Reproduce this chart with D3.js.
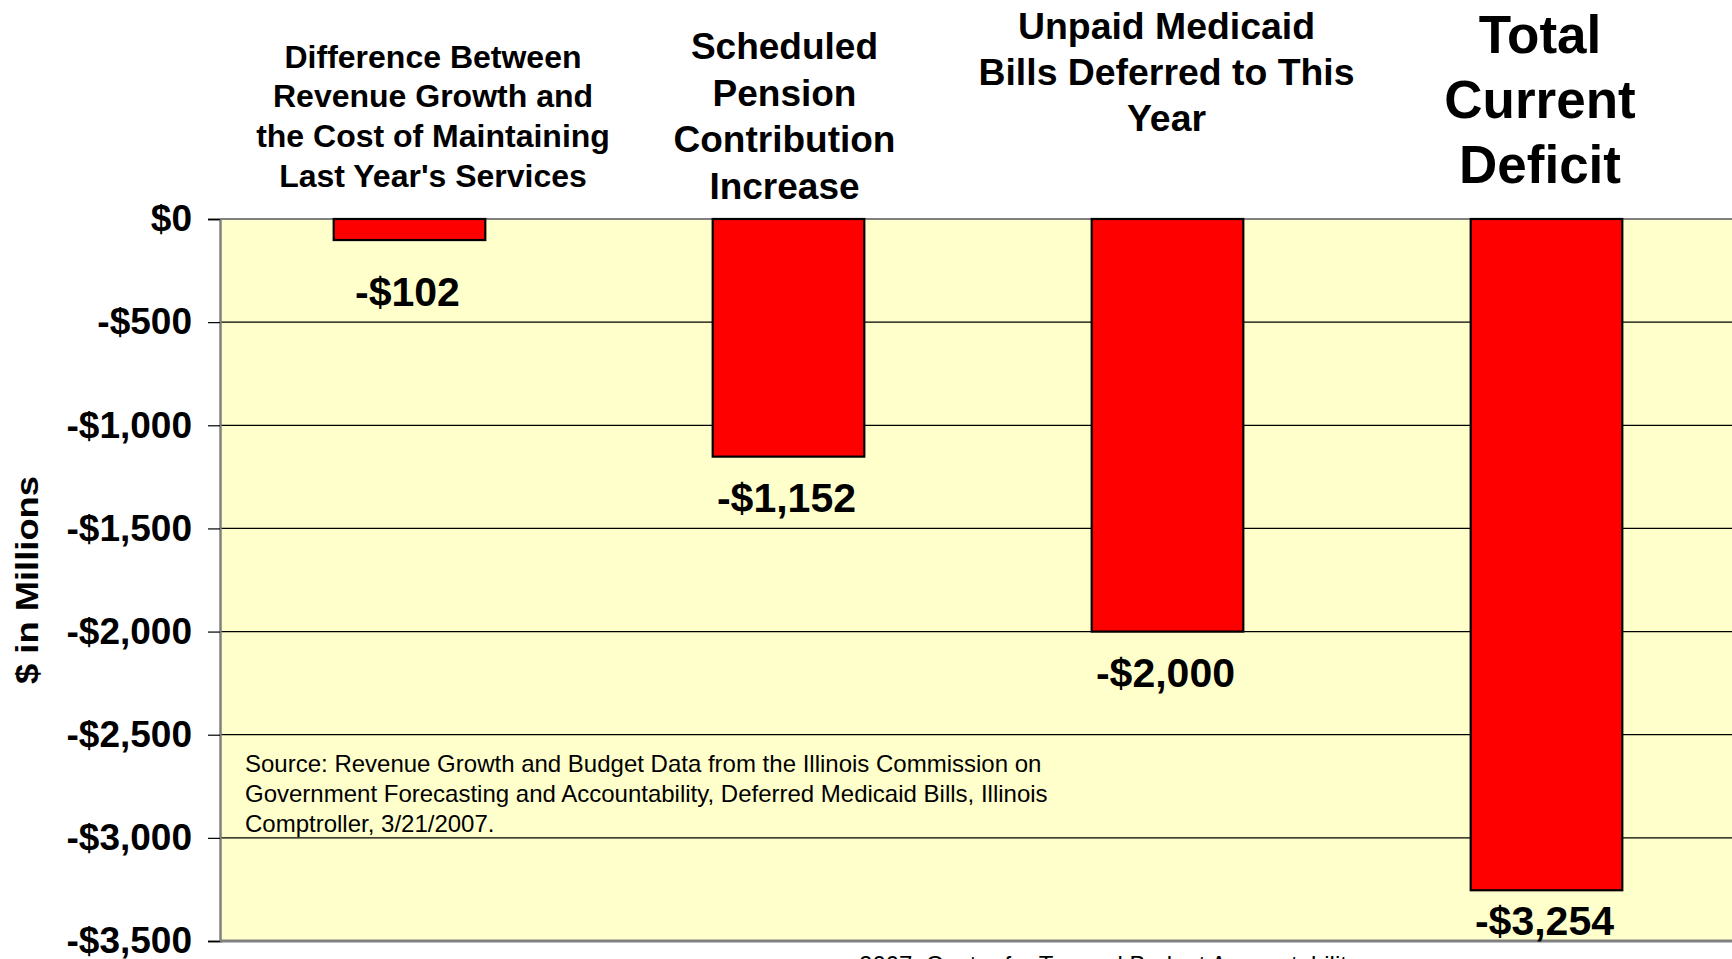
<!DOCTYPE html>
<html>
<head>
<meta charset="utf-8">
<script src="https://cdn.jsdelivr.net/npm/d3@7"></script>
<style>
  html, body { margin: 0; padding: 0; background: #ffffff; overflow: hidden; }
  svg { display: block; font-family: "Liberation Sans", Arial, sans-serif; }
</style>
</head>
<body>
<svg id="chart" width="1732" height="959"></svg>
<script>
// ---- Data ----
const categories = [
  ["Difference Between", "Revenue Growth and", "the Cost of Maintaining", "Last Year's Services"],
  ["Scheduled", "Pension", "Contribution", "Increase"],
  ["Unpaid Medicaid", "Bills Deferred to This", "Year"],
  ["Total", "Current", "Deficit"]
];
const values = [-102, -1152, -2000, -3254];
const valueLabels = ["-$102", "-$1,152", "-$2,000", "-$3,254"];
const yTicks = [0, -500, -1000, -1500, -2000, -2500, -3000, -3500];
const yTickLabels = ["$0", "-$500", "-$1,000", "-$1,500", "-$2,000", "-$2,500", "-$3,000", "-$3,500"];
const yTitle = "$ in Millions";
const sourceLines = [
  "Source: Revenue Growth and Budget Data from the Illinois Commission on",
  "Government Forecasting and Accountability, Deferred Medicaid Bills, Illinois",
  "Comptroller, 3/21/2007."
];
const footer = "2007, Center for Tax and Budget Accountability";

// ---- Layout ----
const plot = { left: 220, right: 1736, top: 219, bottom: 941 };
const catStyle = [
  { size: 32, dx: 23.5, y0: 67.7, lh: 39.7 },
  { size: 37, dx: -4, y0: 59, lh: 46.6 },
  { size: 37.4, dx: -1, y0: 39, lh: 46 },
  { size: 53, dx: -6.5, y0: 53, lh: 65 }
];
const valueDy = [66, 55, 55, 45];

const svg = d3.select("#chart");
const idx = d3.range(values.length);

const x = d3.scaleBand()
  .domain(idx)
  .range([plot.left, plot.right])
  .paddingInner(0.6)
  .paddingOuter(0.3);

const y = d3.scaleLinear()
  .domain([-3500, 0])
  .range([plot.bottom, plot.top]);

// Plot background
svg.append("rect")
  .attr("x", plot.left).attr("y", plot.top)
  .attr("width", plot.right - plot.left)
  .attr("height", plot.bottom - plot.top)
  .attr("fill", "#FFFFCC");

// Gridlines
svg.append("g")
  .selectAll("line")
  .data(yTicks.filter(d => d !== 0 && d !== -3500))
  .join("line")
  .attr("x1", plot.left).attr("x2", plot.right)
  .attr("y1", d => y(d)).attr("y2", d => y(d))
  .attr("stroke", "#000").attr("stroke-width", 1.2);

// Plot border (top, bottom) in gray
svg.append("line")
  .attr("x1", plot.left).attr("x2", plot.right)
  .attr("y1", plot.top).attr("y2", plot.top)
  .attr("stroke", "#808080").attr("stroke-width", 2);
svg.append("line")
  .attr("x1", plot.left).attr("x2", plot.right)
  .attr("y1", plot.bottom).attr("y2", plot.bottom)
  .attr("stroke", "#808080").attr("stroke-width", 3);

// Y axis
const yAxis = d3.axisLeft(y)
  .tickValues(yTicks)
  .tickSize(12)
  .tickPadding(16)
  .tickFormat((d, i) => yTickLabels[i]);
const gy = svg.append("g")
  .attr("transform", `translate(${plot.left},0)`)
  .call(yAxis);
gy.select(".domain").attr("stroke", "#808080").attr("stroke-width", 2.5);
gy.selectAll(".tick line").attr("stroke", "#000").attr("stroke-width", 1.2);
gy.selectAll(".tick text")
  .attr("font-family", "'Liberation Sans', Arial, sans-serif")
  .attr("font-size", 37)
  .attr("font-weight", "bold")
  .attr("fill", "#000");

// Bars
svg.append("g")
  .selectAll("rect")
  .data(idx)
  .join("rect")
  .attr("x", i => x(i))
  .attr("width", x.bandwidth())
  .attr("y", y(0))
  .attr("height", i => y(values[i]) - y(0))
  .attr("fill", "#FF0000")
  .attr("stroke", "#000")
  .attr("stroke-width", 2.2);

// Value labels
svg.append("g")
  .selectAll("text")
  .data(idx)
  .join("text")
  .attr("x", i => x(i) + x.bandwidth() / 2 - 2)
  .attr("y", i => y(values[i]) + valueDy[i])
  .attr("text-anchor", "middle")
  .attr("font-size", 41)
  .attr("font-weight", "bold")
  .attr("fill", "#000")
  .text(i => valueLabels[i]);

// Category labels above the plot
const cat = svg.append("g")
  .selectAll("text")
  .data(idx)
  .join("text")
  .attr("text-anchor", "middle")
  .attr("font-weight", "bold")
  .attr("fill", "#000")
  .attr("font-size", i => catStyle[i].size);
cat.each(function(i) {
  const t = d3.select(this);
  const cx = x(i) + x.bandwidth() / 2 + catStyle[i].dx;
  categories[i].forEach((line, k) => {
    t.append("tspan")
      .attr("x", cx)
      .attr("y", catStyle[i].y0 + k * catStyle[i].lh)
      .text(line);
  });
});

// Y axis title
svg.append("text")
  .attr("transform", "translate(38,580) rotate(-90)")
  .attr("text-anchor", "middle")
  .attr("font-size", 32)
  .attr("font-weight", "bold")
  .attr("textLength", 208)
  .attr("lengthAdjust", "spacingAndGlyphs")
  .attr("fill", "#000")
  .text(yTitle);

// Source note
svg.append("g")
  .selectAll("text")
  .data(sourceLines)
  .join("text")
  .attr("x", 245)
  .attr("y", (d, i) => 772 + i * 30)
  .attr("font-size", 24)
  .attr("fill", "#000")
  .text(d => d);

// Footer (cut off at bottom, as in the reference)
svg.append("text")
  .attr("x", 1109)
  .attr("y", 973)
  .attr("text-anchor", "middle")
  .attr("font-size", 24)
  .attr("fill", "#000")
  .text(footer);
</script>
</body>
</html>
